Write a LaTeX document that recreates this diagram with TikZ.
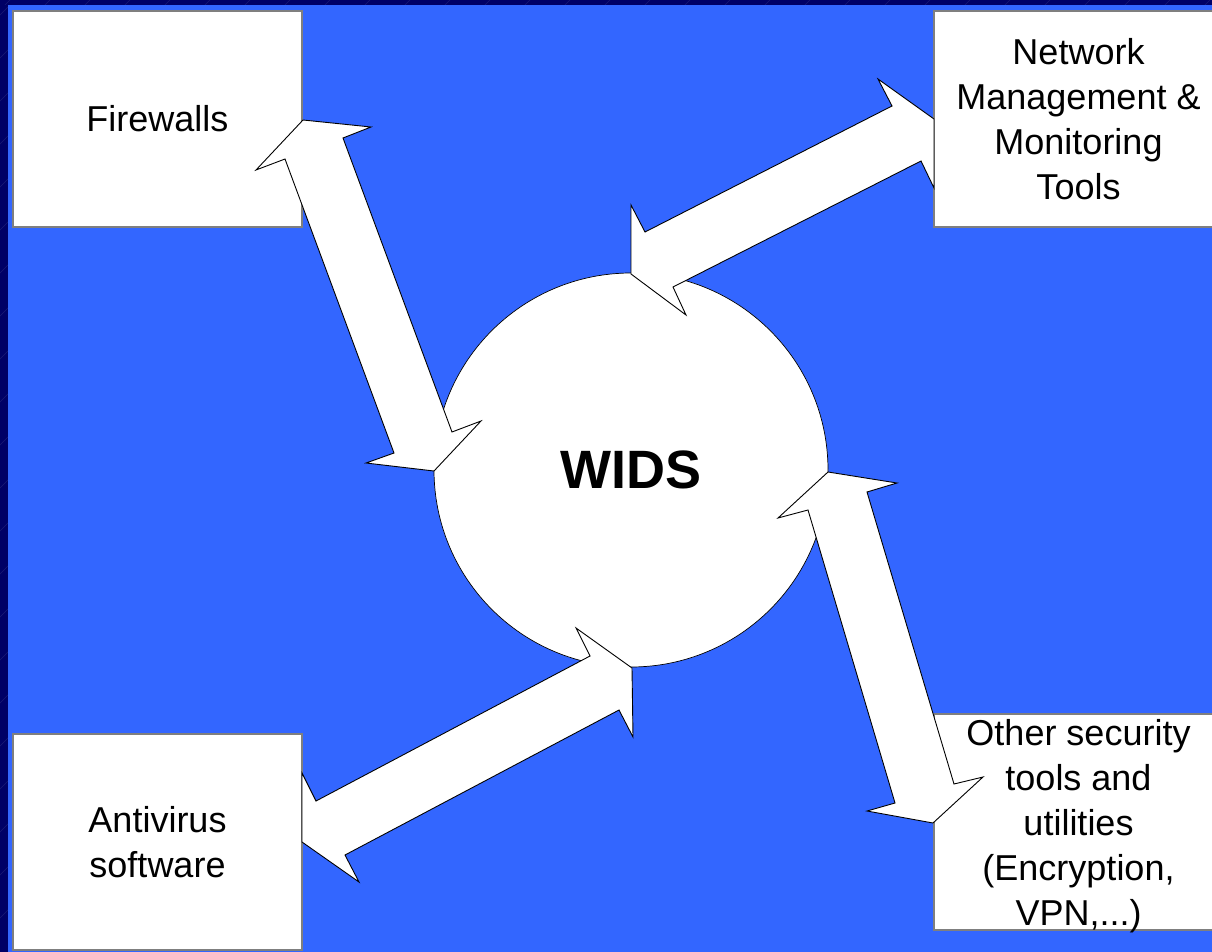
\documentclass[tikz,border=0pt]{standalone}
\usepackage{fontspec}
\setmainfont{Liberation Sans}
\definecolor{navy}{HTML}{000066}
\definecolor{slideblue}{HTML}{3366FF}
\definecolor{boxgrey}{HTML}{7F7F7F}
\begin{document}
\begin{tikzpicture}[x=1pt,y=-1pt,
  box/.style={draw=boxgrey,line width=1.3pt,fill=white,minimum width=289pt,minimum height=216pt,
    inner sep=0pt,align=center,font=\fontsize{36}{45}\selectfont},
  blockarrow/.style={draw=black,fill=white,line width=0.9pt,line join=miter},
  texture/.style={draw=white,opacity=0.1,line width=0.5pt}]
\useasboundingbox (0,0) rectangle (1212,952);
% background
\fill[navy] (0,0) rectangle (1212,952);
\begin{scope}
  \clip (0,0) rectangle (8,952);
  \foreach \k in {0,...,24} {\draw[texture] (-5,{20+43*\k}) -- (20,{-5+43*\k});}
\end{scope}
\begin{scope}
  \clip (0,0) rectangle (1212,5);
  \foreach \k in {0,...,30} {\draw[texture] ({40*\k},10) -- ({40*\k+12},-2);}
\end{scope}
\fill[slideblue] (8,5) rectangle (1212,952);
% boxes
\node[box] (fw) at (157.5,119) {Firewalls};
\node[box] (nm) at (1078.5,119) {Network\\Management \&\\Monitoring\\Tools};
\node[box] (av) at (157.5,842) {Antivirus\\software};
\node[box,inner ysep=-4pt] (ot) at (1078.5,822) {\\[-11pt]Other security\\tools and\\utilities\\(Encryption,\\VPN,...)};
% central circle
\node[draw=black,line width=0.7pt,fill=white,circle,minimum size=394pt,inner sep=0pt,
  font=\fontsize{54}{60}\selectfont\bfseries] (wids) at (631,470) {WIDS};
% block arrows
\draw[blockarrow] (303,120) -- (371,127) -- (343,138) -- (452,432) -- (481,421) -- (434,471)
  -- (366,463) -- (394,453) -- (285,159) -- (256,170) -- cycle;
\draw[blockarrow] (631,274) -- (631,205) -- (645,232) -- (892,106) -- (878,79) -- (934,119)
  -- (934,188) -- (921,161) -- (673,287) -- (686,315) -- cycle;
\draw[blockarrow] (828,472) -- (897,483) -- (867,492) -- (954,784) -- (983,777) -- (933,823)
  -- (867,811) -- (895,803) -- (808,510) -- (778,518) -- cycle;
\draw[blockarrow] (302,842) -- (359,882) -- (345,855) -- (619,710) -- (633,737) -- (632,668)
  -- (576,628) -- (590,656) -- (316,801) -- (302,773) -- cycle;
\end{tikzpicture}
\end{document}
